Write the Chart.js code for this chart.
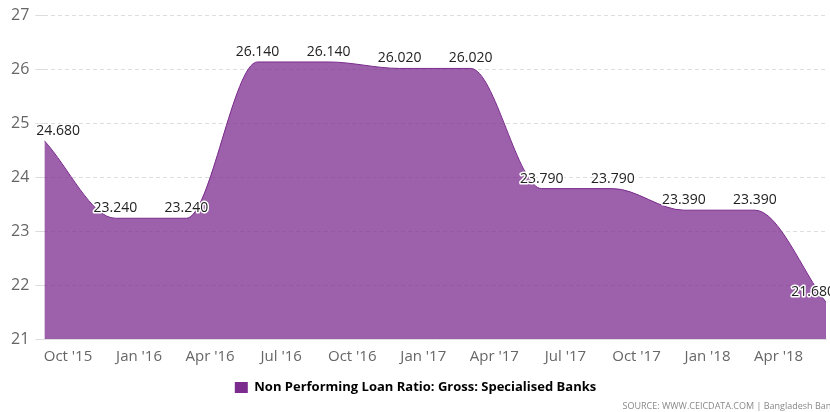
<!DOCTYPE html>
<html>
<head>
<meta charset="utf-8">
<script src="https://cdn.jsdelivr.net/npm/chart.js@4/dist/chart.umd.min.js"></script>
<style>
  html, body { margin: 0; padding: 0; background: #fff; overflow: hidden; }
  #wrap { position: relative; width: 830px; height: 412px; overflow: hidden; }
  #source {
    position: absolute; right: -6px; top: 399px;
    font: 9px "Open Sans", sans-serif; color: #888; white-space: nowrap;
  }
</style>
</head>
<body>
<div id="wrap">
  <canvas id="npl-chart"></canvas>
  <div id="source">SOURCE: WWW.CEICDATA.COM | Bangladesh Bank</div>
</div>
<script>
// quarterly observations (month the value is dated at)
const pointDates = ['2015-09', '2015-12', '2016-03', '2016-06', '2016-09', '2016-12',
  '2017-03', '2017-06', '2017-09', '2017-12', '2018-03', '2018-06'];
const nplValues = [24.68, 23.24, 23.24, 26.14, 26.14, 26.02, 26.02, 23.79, 23.79, 23.39, 23.39, 21.68];

const tickDates = ['2015-10', '2016-01', '2016-04', '2016-07', '2016-10', '2017-01',
  '2017-04', '2017-07', '2017-10', '2018-01', '2018-04'];
const tickLabels = ["Oct '15", "Jan '16", "Apr '16", "Jul '16", "Oct '16", "Jan '17",
  "Apr '17", "Jul '17", "Oct '17", "Jan '18", "Apr '18"];

const seriesName = 'Non Performing Loan Ratio: Gross: Specialised Banks';

// months since first observation, used as the x value
const toMonth = d => {
  const [y, m] = d.split('-').map(Number);
  return (y - 2015) * 12 + (m - 9);
};

const purple = 'rgb(123, 44, 142)';

// value labels above each point, white outline like the original
const valueLabels = {
  id: 'valueLabels',
  afterDatasetsDraw(chart) {
    const ctx = chart.ctx;
    const meta = chart.getDatasetMeta(0);
    ctx.save();
    ctx.font = '14px "Open Sans"';
    ctx.textAlign = 'center';
    ctx.textBaseline = 'bottom';
    ctx.lineJoin = 'round';
    meta.data.forEach((p, i) => {
      const txt = nplValues[i].toFixed(3);
      const w = ctx.measureText(txt).width;
      let x = Math.max(p.x, chart.chartArea.left - 8 + w / 2);
      x = Math.min(x, chart.width - w / 2 + 5);
      ctx.lineWidth = 3;
      ctx.strokeStyle = '#fff';
      ctx.strokeText(txt, x, p.y - 3);
      ctx.fillStyle = '#222';
      ctx.fillText(txt, x, p.y - 3);
    });
    ctx.restore();
  }
};

Chart.defaults.font.family = '"Open Sans", sans-serif';

new Chart(document.getElementById('npl-chart').getContext('2d'), {
  type: 'line',
  data: {
    datasets: [{
      label: seriesName,
      data: pointDates.map((d, i) => ({ x: toMonth(d), y: nplValues[i] })),
      borderColor: purple,
      borderWidth: 1,
      backgroundColor: 'rgba(123, 44, 142, 0.75)',
      fill: 'start',
      pointRadius: 0,
      cubicInterpolationMode: 'monotone'
    }]
  },
  options: {
    responsive: true,
    maintainAspectRatio: false,
    animation: false,
    layout: { padding: { top: 6, right: 4, left: 5, bottom: 8 } },
    scales: {
      x: {
        type: 'linear',
        min: toMonth(pointDates[0]),
        max: toMonth(pointDates[pointDates.length - 1]),
        afterBuildTicks: scale => {
          scale.ticks = tickDates.map(d => ({ value: toMonth(d) }));
        },
        ticks: {
          autoSkip: false,
          maxRotation: 0,
          color: '#666',
          font: { size: 15 },
          padding: 1,
          callback: (v) => tickLabels[tickDates.findIndex(d => toMonth(d) === v)]
        },
        grid: { display: false },
        border: { display: true, color: '#ddd' }
      },
      y: {
        min: 21,
        max: 27,
        ticks: { stepSize: 1, color: '#666', font: { size: 16 }, padding: 6 },
        grid: { color: '#ddd', tickLength: 9 },
        border: { display: false, dash: [4, 3] }
      }
    },
    plugins: {
      legend: {
        position: 'bottom',
        labels: {
          boxWidth: 13,
          boxHeight: 11,
          color: '#666',
          font: { size: 13, weight: 'bold' },
          padding: 14,
          generateLabels: chart => [{
            text: seriesName,
            fillStyle: purple,
            strokeStyle: purple,
            lineWidth: 0,
            datasetIndex: 0
          }]
        }
      },
      tooltip: { enabled: false }
    }
  },
  plugins: [valueLabels]
});
</script>
</body>
</html>
